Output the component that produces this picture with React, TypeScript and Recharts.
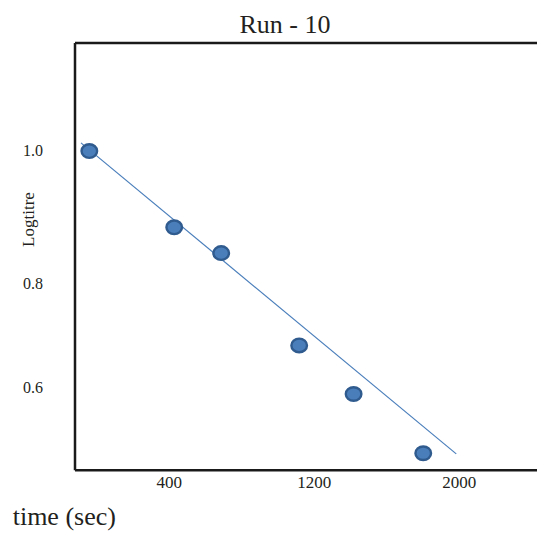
import React from "react";
import { ScatterChart, Scatter, XAxis, YAxis, ReferenceLine } from "recharts";

// ---- data ----
const times = [-40, 428, 687, 1117, 1417, 1801];
const logtitre = [0.999, 0.89, 0.85, 0.688, 0.585, 0.427];
const trendTimes = [-86, 1983];
const trendValues = [1.01, 0.425];
const xTicks = [400, 1200, 2000];
const yTicks = [0.6, 0.8, 1.0];
const xDomain = [-119, 2555];
const yDomain = [0.3692, 1.1356];

const points = times.map((t, i) => ({ t, v: logtitre[i] }));
const trend = trendTimes.map((t, i) => ({ t, v: trendValues[i] }));

// custom power scale (exponent 2), d3-like interface
function makePowScale(exponent: number, dom0?: number[], rng0?: number[]): any {
  let dom = dom0 ? dom0.slice() : [0, 1];
  let rng = rng0 ? rng0.slice() : [0, 1];
  const f = (v: number) => Math.sign(v) * Math.pow(Math.abs(v), exponent);
  const finv = (v: number) => Math.sign(v) * Math.pow(Math.abs(v), 1 / exponent);
  const scale: any = (x: number) => {
    const a = f(Number(dom[0]));
    const b = f(Number(dom[dom.length - 1]));
    const t = (f(Number(x)) - a) / (b - a);
    return rng[0] + t * (rng[rng.length - 1] - rng[0]);
  };
  scale.domain = (d?: number[]) => {
    if (d === undefined) return dom.slice();
    dom = d.map(Number);
    return scale;
  };
  scale.range = (r?: number[]) => {
    if (r === undefined) return rng.slice();
    rng = r.map(Number);
    return scale;
  };
  scale.invert = (p: number) => {
    const a = f(dom[0]);
    const b = f(dom[dom.length - 1]);
    const t = (p - rng[0]) / (rng[rng.length - 1] - rng[0]);
    return finv(a + t * (b - a));
  };
  scale.copy = () => makePowScale(exponent, dom, rng);
  scale.ticks = (n: number = 5) => {
    const lo = Math.min(dom[0], dom[dom.length - 1]);
    const hi = Math.max(dom[0], dom[dom.length - 1]);
    const step = (hi - lo) / n;
    const out: number[] = [];
    for (let i = 0; i <= n; i++) out.push(lo + i * step);
    return out;
  };
  scale.tickFormat = () => (x: number) => String(x);
  scale.nice = () => scale;
  scale.clamp = () => scale;
  scale.exponent = () => exponent;
  return scale;
}

const yScale = makePowScale(2);

const TEXT = "#231f20";
const FONT = "'Liberation Serif', 'Times New Roman', serif";
const AXIS = "#1a1a1a";

const XTick = (props: any) => {
  const { x, payload } = props;
  return (
    <text x={x} y={480.3} textAnchor="middle" fontSize={17} fontFamily={FONT} fill={TEXT}>
      {payload.value}
    </text>
  );
};

const YTick = (props: any) => {
  const { y, payload } = props;
  return (
    <text x={25} y={y + 5.3} textAnchor="middle" fontSize={16} fontFamily={FONT} fill={TEXT}>
      {Number(payload.value).toFixed(1)}
    </text>
  );
};

const Dot = (props: any) => {
  const { cx, cy } = props;
  return <ellipse cx={cx} cy={cy} rx={7.8} ry={6.8} fill="#4a7ebb" stroke="#2f5b8f" strokeWidth={2.4} />;
};

const NoDot = () => <g />;

export default function App() {
  return (
    <div style={{ position: "relative", width: 537, height: 525, overflow: "hidden", background: "#fff" }}>
      <ScatterChart width={560} height={525} margin={{ top: 35, right: 8, bottom: 32.7, left: 0 }}>
        <XAxis
          type="number"
          dataKey="t"
          domain={xDomain}
          ticks={xTicks}
          allowDataOverflow
          height={30}
          tickLine={false}
          axisLine={{ stroke: AXIS, strokeWidth: 2.5 }}
          tick={<XTick />}
        />
        <YAxis
          type="number"
          dataKey="v"
          domain={yDomain}
          ticks={yTicks}
          scale={yScale}
          allowDataOverflow
          width={67}
          tickLine={false}
          axisLine={{ stroke: AXIS, strokeWidth: 2.5 }}
          tick={<YTick />}
        />
        <ReferenceLine y={yDomain[1]} stroke={AXIS} strokeWidth={2.5} ifOverflow="visible" />
        <Scatter
          data={trend}
          line={{ stroke: "#4a7ebb", strokeWidth: 1.2 }}
          shape={<NoDot />}
          isAnimationActive={false}
        />
        <Scatter data={points} shape={<Dot />} isAnimationActive={false} />
      </ScatterChart>
      <svg
        width={537}
        height={525}
        style={{ position: "absolute", left: 0, top: 0, pointerEvents: "none" }}
      >
        <text x={277} y={25.3} textAnchor="middle" fontSize={26} fontFamily={FONT} fill={TEXT}>
          Run - 10
        </text>
        <text x={4.7} y={517} textAnchor="start" fontSize={26} fontFamily={FONT} fill={TEXT}>
          time (sec)
        </text>
        <text
          x={20.3}
          y={211.5}
          textAnchor="middle"
          dominantBaseline="central"
          fontSize={17}
          fontFamily={FONT}
          fill={TEXT}
          transform="rotate(-90 20.3 211.5)"
        >
          Logtitre
        </text>
      </svg>
    </div>
  );
}
